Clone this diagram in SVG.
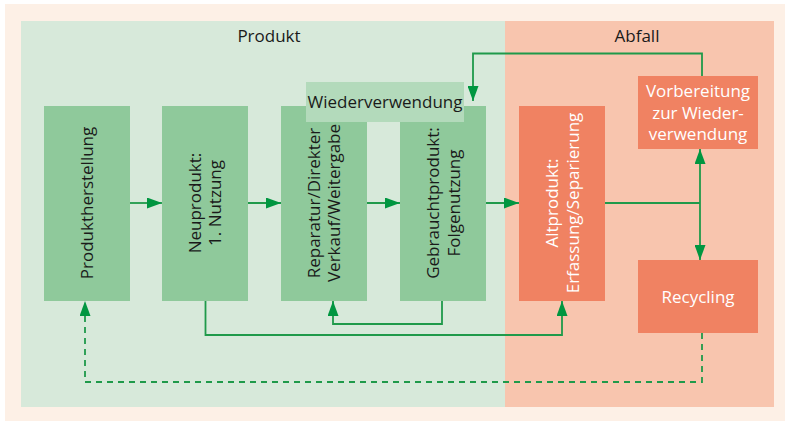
<svg xmlns="http://www.w3.org/2000/svg" width="785" height="421" viewBox="0 0 785 421">
<style>
text{font-family:"Open Sans","Liberation Sans",Arial,sans-serif;font-size:17px;fill:#1a1a1a}
.w{fill:#ffffff}
.g{fill:#8fc99b}
.s{fill:#f08262}
.ln{fill:none;stroke:#1f9a4a;stroke-width:1.8}
.dash{stroke-dasharray:6,5}
</style>
<defs>
<marker id="ah" viewBox="0 0 15 11" refX="15" refY="5.5" markerWidth="15" markerHeight="11" markerUnits="userSpaceOnUse" orient="auto">
<path d="M0,0 L15,5.5 L0,11 Z" fill="#009640"/>
</marker>
</defs>
<rect x="5" y="4" width="780" height="417" fill="#fdf0e6"/>
<g id="panel-produkt">
<rect x="21" y="21" width="484" height="386" fill="#d7e9da"/>
<text x="269" y="42" text-anchor="middle">Produkt</text>
</g>
<g id="panel-abfall">
<rect x="505" y="21" width="269" height="386" fill="#f8c5ae"/>
<text x="637" y="42" text-anchor="middle">Abfall</text>
</g>
<g id="connectors">
<line class="ln" x1="130" y1="203" x2="162" y2="203" marker-end="url(#ah)"/>
<line class="ln" x1="248" y1="203" x2="281" y2="203" marker-end="url(#ah)"/>
<line class="ln" x1="367" y1="203" x2="400" y2="203" marker-end="url(#ah)"/>
<line class="ln" x1="486" y1="203" x2="519" y2="203" marker-end="url(#ah)"/>
<polyline class="ln" points="605,203 700,203"/>
<line class="ln" x1="700" y1="203" x2="700" y2="149" marker-end="url(#ah)"/>
<line class="ln" x1="700" y1="203" x2="700" y2="260" marker-end="url(#ah)"/>
<polyline class="ln" points="702,76 702,53.5 473,53.5 473,101" marker-end="url(#ah)"/>
<polyline class="ln" points="205.5,301 205.5,335 562,335 562,301" marker-end="url(#ah)"/>
<polyline class="ln" points="442,301 442,324 333,324 333,301" marker-end="url(#ah)"/>
<polyline class="ln dash" points="702,333 702,382 85,382 85,301" marker-end="url(#ah)"/>
</g>
<g id="node-produktherstellung">
<rect class="g" x="44" y="106" width="86" height="195"/>
<text transform="translate(87,203) rotate(-90)" x="0" y="6" text-anchor="middle">Produktherstellung</text>
</g>
<g id="node-neuprodukt">
<rect class="g" x="162" y="106" width="86" height="195"/>
<text transform="translate(205,203) rotate(-90)" text-anchor="middle"><tspan x="0" y="-4">Neuprodukt:</tspan><tspan x="0" y="16">1. Nutzung</tspan></text>
</g>
<g id="node-reparatur">
<rect class="g" x="281" y="106" width="86" height="195"/>
<text transform="translate(324,203) rotate(-90)" text-anchor="middle"><tspan x="0" y="-4">Reparatur/Direkter</tspan><tspan x="0" y="16">Verkauf/Weitergabe</tspan></text>
</g>
<g id="node-gebrauchtprodukt">
<rect class="g" x="400" y="106" width="86" height="195"/>
<text transform="translate(443,203) rotate(-90)" text-anchor="middle"><tspan x="0" y="-4">Gebrauchtprodukt:</tspan><tspan x="0" y="17">Folgenutzung</tspan></text>
</g>
<g id="node-wiederverwendung">
<rect x="306" y="82" width="158" height="40" fill="#b3dabb"/>
<text x="385" y="108" text-anchor="middle">Wiederverwendung</text>
</g>
<g id="node-altprodukt">
<rect class="s" x="519" y="106" width="86" height="195"/>
<text class="w" transform="translate(562,203) rotate(-90)" text-anchor="middle"><tspan x="0" y="-4">Altprodukt:</tspan><tspan x="0" y="17">Erfassung/Separierung</tspan></text>
</g>
<g id="node-vorbereitung">
<rect class="s" x="638" y="76" width="120" height="73"/>
<text class="w" text-anchor="middle"><tspan x="698" y="97">Vorbereitung</tspan><tspan x="698" y="119">zur Wieder-</tspan><tspan x="698" y="140">verwendung</tspan></text>
</g>
<g id="node-recycling">
<rect class="s" x="638" y="260" width="120" height="73"/>
<text class="w" x="698" y="303" text-anchor="middle">Recycling</text>
</g>
</svg>
